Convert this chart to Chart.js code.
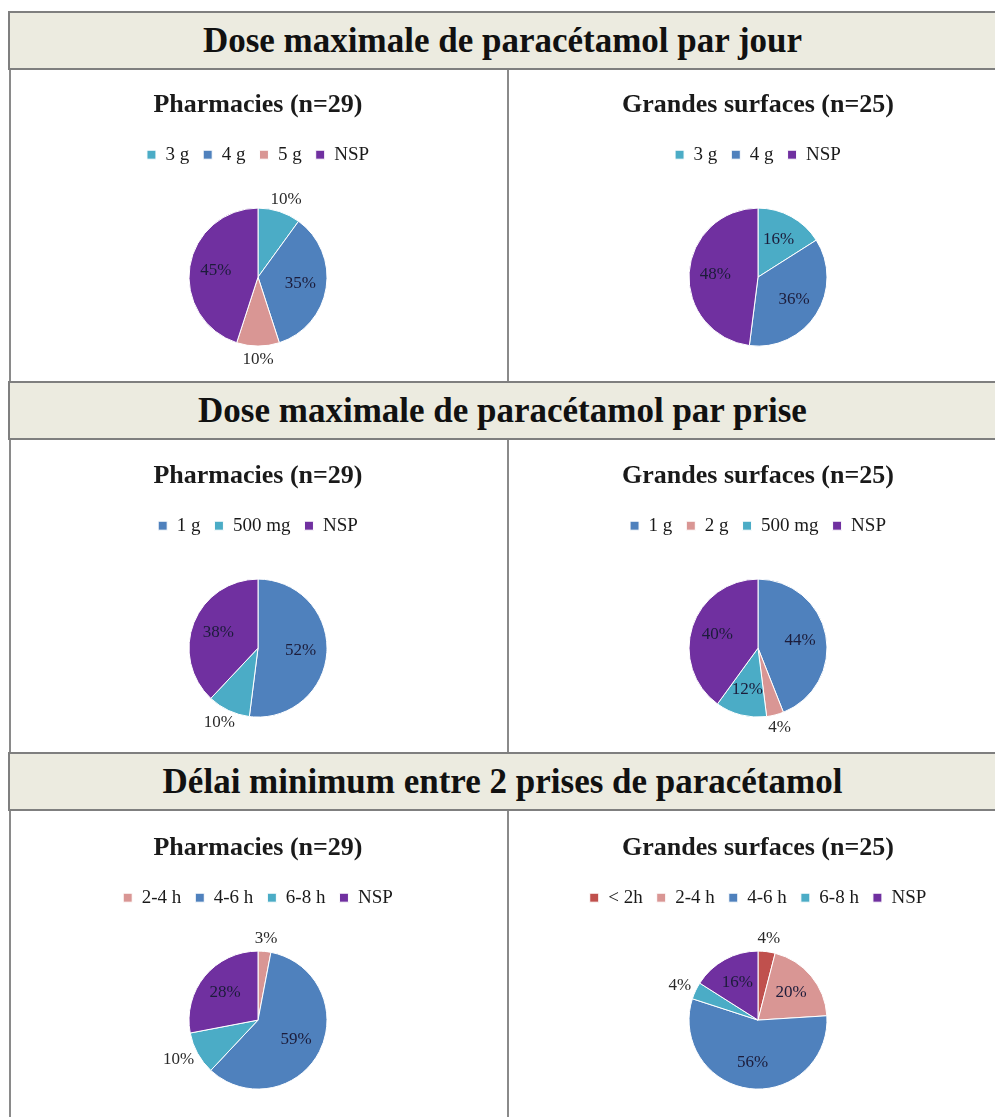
<!DOCTYPE html>
<html>
<head>
<meta charset="utf-8">
<script src="https://cdn.jsdelivr.net/npm/chart.js@4.4.1/dist/chart.umd.min.js"></script>
<style>
  html, body { margin: 0; padding: 0; background: #fff; overflow: hidden; width: 995px; height: 1117px; }
  .hdr {
    position: absolute; left: 8px; width: 1000px; height: 55px;
    background: #ecebe0; border: 2px solid #7f7f7f; z-index: 3;
    font: bold 35px "Liberation Serif", "Times New Roman", serif; color: #111;
    line-height: 55px; box-sizing: content-box;
  }
  .hdr span { position: absolute; left: 0; width: 985px; text-align: center; }
  .vline { position: absolute; width: 2px; background: #8a8a8a; top: 70px; height: 1050px; z-index: 2; }
  .box { position: absolute; z-index: 1; }
</style>
</head>
<body>
<div class="vline" style="left:9px"></div>
<div class="vline" style="left:507px"></div>

<div class="hdr" style="top:11px"><span>Dose maximale de paracétamol par jour</span></div>
<div class="hdr" style="top:381px"><span>Dose maximale de paracétamol par prise</span></div>
<div class="hdr" style="top:752px"><span>Délai minimum entre 2 prises de paracétamol</span></div>

<div class="box" style="left:10px;top:71px;width:496px;height:340px"><canvas id="jourPh"></canvas></div>
<div class="box" style="left:520px;top:71px;width:476px;height:340px"><canvas id="jourGs"></canvas></div>
<div class="box" style="left:10px;top:442px;width:496px;height:340px"><canvas id="prisePh"></canvas></div>
<div class="box" style="left:520px;top:442px;width:476px;height:340px"><canvas id="priseGs"></canvas></div>
<div class="box" style="left:10px;top:814px;width:496px;height:340px"><canvas id="delaiPh"></canvas></div>
<div class="box" style="left:520px;top:814px;width:476px;height:340px"><canvas id="delaiGs"></canvas></div>

<script>
// donnees (%)
var titrePh = 'Pharmacies (n=29)';
var titreGs = 'Grandes surfaces (n=25)';

var jourLabelsPh = ['3 g', '4 g', '5 g', 'NSP'];
var jourValuesPh = [10, 35, 10, 45];
var jourLabelsGs = ['3 g', '4 g', 'NSP'];
var jourValuesGs = [16, 36, 48];

var priseLabelsPh = ['1 g', '500 mg', 'NSP'];
var priseValuesPh = [52, 10, 38];
var priseLabelsGs = ['1 g', '2 g', '500 mg', 'NSP'];
var priseValuesGs = [44, 4, 12, 40];

var delaiLabelsPh = ['2-4 h', '4-6 h', '6-8 h', 'NSP'];
var delaiValuesPh = [3, 59, 10, 28];
var delaiLabelsGs = ['< 2h', '2-4 h', '4-6 h', '6-8 h', 'NSP'];
var delaiValuesGs = [4, 20, 56, 4, 16];

// couleur par categorie
var couleurs = {
    '3 g': '#4bacc6', '500 mg': '#4bacc6', '6-8 h': '#4bacc6',
    '4 g': '#4f81bd', '1 g': '#4f81bd', '4-6 h': '#4f81bd',
    '5 g': '#d99694', '2 g': '#d99694', '2-4 h': '#d99694',
    'NSP': '#7030a0',
    '< 2h': '#c0504d'
};

Chart.defaults.font.family = '"Liberation Serif", "Times New Roman", serif';
Chart.defaults.color = '#1a1a1a';

// etiquettes % : dedans si grande part, dehors sinon
var pctLabels = {
    id: 'pctLabels',
    afterDatasetsDraw: function(chart) {
        var ctx = chart.ctx;
        var meta = chart.getDatasetMeta(0);
        var values = chart.data.datasets[0].data;
        ctx.save();
        ctx.font = '17px "Liberation Serif", serif';
        ctx.textAlign = 'center';
        ctx.textBaseline = 'middle';
        meta.data.forEach(function(arc, i) {
            var p = arc.getProps(['x', 'y', 'startAngle', 'endAngle', 'outerRadius'], true);
            var mid = (p.startAngle + p.endAngle) / 2;
            var dx = Math.cos(mid), dy = Math.sin(mid);
            var txt = values[i] + '%';
            var x, y;
            if (values[i] > 10) {
                x = p.x + dx * p.outerRadius * 0.62;
                y = p.y + dy * p.outerRadius * 0.62;
                ctx.fillStyle = '#1c1c3a';
            } else {
                var w = ctx.measureText(txt).width;
                x = p.x + dx * (p.outerRadius + 6) + dx * w / 2;
                y = p.y + dy * (p.outerRadius + 6) + dy * 7;
                ctx.fillStyle = '#2a2a2a';
            }
            ctx.fillText(txt, x, y);
        });
        ctx.restore();
    }
};

function camembert(id, titre, labels, values) {
    return new Chart(document.getElementById(id), {
        type: 'pie',
        data: {
            labels: labels,
            datasets: [{
                data: values,
                backgroundColor: labels.map(function(l) { return couleurs[l]; }),
                borderColor: '#ffffff',
                borderWidth: 1,
                radius: 69
            }]
        },
        options: {
            responsive: true,
            maintainAspectRatio: false,
            animation: false,
            layout: { padding: { top: 0, bottom: 31 } },
            plugins: {
                title: {
                    display: true,
                    text: titre,
                    font: { size: 26, weight: 'bold' },
                    padding: { top: 19, bottom: 10 }
                },
                legend: {
                    display: true,
                    position: 'top',
                    labels: {
                        boxWidth: 9,
                        boxHeight: 9,
                        padding: 14,
                        font: { size: 19 }
                    }
                },
                tooltip: { enabled: false }
            }
        },
        plugins: [pctLabels]
    });
}

camembert('jourPh', titrePh, jourLabelsPh, jourValuesPh);
camembert('jourGs', titreGs, jourLabelsGs, jourValuesGs);
camembert('prisePh', titrePh, priseLabelsPh, priseValuesPh);
camembert('priseGs', titreGs, priseLabelsGs, priseValuesGs);
camembert('delaiPh', titrePh, delaiLabelsPh, delaiValuesPh);
camembert('delaiGs', titreGs, delaiLabelsGs, delaiValuesGs);
</script>
</body>
</html>
